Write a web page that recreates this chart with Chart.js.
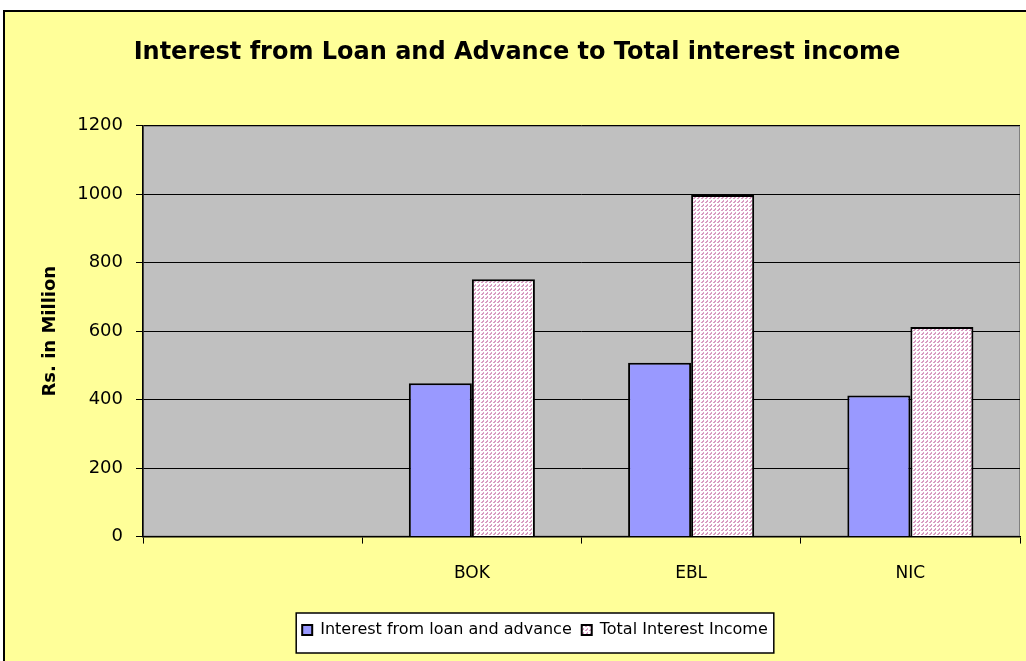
<!DOCTYPE html>
<html>
<head>
<meta charset="utf-8">
<script src="https://cdn.jsdelivr.net/npm/chart.js@4.4.1/dist/chart.umd.min.js"></script>
<style>
  html, body { margin: 0; padding: 0; background: #fff; }
</style>
</head>
<body>
<canvas id="chart" width="1026" height="661"></canvas>
<script>
const categories = ["", "BOK", "EBL", "NIC"];
const loanInterest = [null, 448, 508, 412];
const totalInterest = [null, 752, 998, 612];
const yTicks = [0, 200, 400, 600, 800, 1000, 1200];

const FONT = "'DejaVu Sans', sans-serif";

// pinkish dashed diagonal hatch like the excel fill
function hatch() {
  const tile = [
    [0, 0, 0, 1],
    [0, 0, 1, 1],
    [0, 1, 1, 0],
    [0, 0, 0, 0]
  ];
  const c = document.createElement("canvas");
  c.width = 4; c.height = 4;
  const g = c.getContext("2d");
  g.fillStyle = "#fff";
  g.fillRect(0, 0, 4, 4);
  g.fillStyle = "#d89cc2";
  tile.forEach((row, y) => row.forEach((on, x) => { if (on) g.fillRect(x, y, 1, 1); }));
  return g.createPattern(c, "repeat");
}

const frame = {
  id: "frame",
  afterLayout(chart) {
    // legend sits a bit right of centre in the original
    chart.legend.left += 18;
    chart.legend.right += 18;
  },
  beforeDraw(chart) {
    const { ctx, chartArea: a, width, height } = chart;
    ctx.save();
    ctx.fillStyle = "#fff";
    ctx.fillRect(0, 0, width, height);
    ctx.fillStyle = "#FFFF99";
    ctx.fillRect(4, 11, width, height);
    ctx.strokeStyle = "#000";
    ctx.lineWidth = 2;
    ctx.beginPath();
    ctx.moveTo(4, height);
    ctx.lineTo(4, 11);
    ctx.lineTo(width, 11);
    ctx.stroke();

    ctx.fillStyle = "#C0C0C0";
    ctx.fillRect(a.left, a.top, a.right - a.left, a.bottom - a.top);
    ctx.strokeStyle = "#808080";
    ctx.lineWidth = 1;
    ctx.strokeRect(a.left + 0.5, a.top + 0.5, a.right - a.left - 1, a.bottom - a.top - 1);

    // legend box
    const hb = chart.legend.legendHitBoxes;
    if (hb && hb.length) {
      const last = hb[hb.length - 1];
      const x0 = hb[0].left - 6;
      const x1 = last.left + last.width + 6;
      const cy = hb[0].top + hb[0].height / 2;
      ctx.fillStyle = "#fff";
      ctx.fillRect(x0, cy - 17, x1 - x0, 40);
      ctx.strokeStyle = "#000";
      ctx.lineWidth = 1.5;
      ctx.strokeRect(x0, cy - 17, x1 - x0, 40);
    }
    ctx.restore();
  }
};

new Chart(document.getElementById("chart"), {
  type: "bar",
  data: {
    labels: categories,
    datasets: [
      {
        label: "Interest from loan and advance",
        data: loanInterest,
        backgroundColor: "#9999FF",
        borderColor: "#000",
        borderWidth: 2
      },
      {
        label: "Total Interest Income",
        data: totalInterest,
        backgroundColor: hatch(),
        borderColor: "#000",
        borderWidth: 2
      }
    ]
  },
  options: {
    responsive: false,
    animation: false,
    layout: { padding: { left: 14, right: 6, top: 0, bottom: 13 } },
    datasets: { bar: { categoryPercentage: 0.575, barPercentage: 1 } },
    plugins: {
      title: {
        display: true,
        text: "Interest from Loan and Advance to Total interest income",
        color: "#000",
        font: { family: FONT, size: 24, weight: "bold" },
        padding: { top: 38, bottom: 59 }
      },
      legend: {
        position: "bottom",
        labels: {
          color: "#000",
          font: { family: FONT, size: 16 },
          boxWidth: 10,
          boxHeight: 10,
          padding: 10
        }
      },
      tooltip: { enabled: false }
    },
    scales: {
      x: {
        afterFit: s => { s.height += 8; },
        grid: { offset: true, drawOnChartArea: false, tickLength: 7, color: "#000" },
        border: { color: "#000", width: 1.5 },
        ticks: { color: "#000", font: { family: FONT, size: 17 }, padding: 20 }
      },
      y: {
        min: 0,
        max: 1200,
        afterBuildTicks: s => { s.ticks = yTicks.map(v => ({ value: v })); },
        afterFit: s => { s.width = 129; },
        grid: { color: "#000", tickLength: 7 },
        border: { color: "#000", width: 1.5 },
        ticks: { color: "#000", font: { family: FONT, size: 18 }, padding: 13, callback: v => String(v) },
        title: {
          display: true,
          text: "Rs. in Million",
          color: "#000",
          font: { family: FONT, size: 18, weight: "bold" },
          padding: { top: 26, bottom: 0 }
        }
      }
    }
  },
  plugins: [frame]
});
</script>
</body>
</html>
